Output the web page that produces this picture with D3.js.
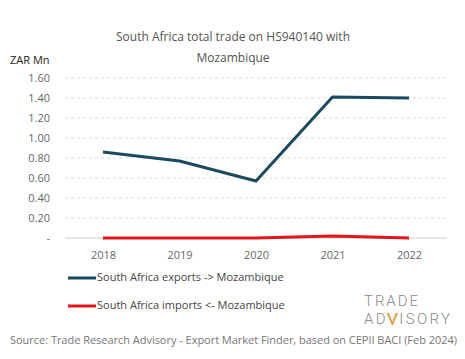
<!DOCTYPE html>
<html><head><meta charset="utf-8">
<script src="https://cdn.jsdelivr.net/npm/d3@7"></script>
<style>body{margin:0;background:#fff}svg{display:block}</style>
</head><body>
<script>
const years = ["2018","2019","2020","2021","2022"];
const exportsVals = [0.86, 0.77, 0.57, 1.41, 1.40];
const importsVals = [0.00, 0.00, 0.00, 0.02, 0.00];
const yTicks = [0, 0.2, 0.4, 0.6, 0.8, 1.0, 1.2, 1.4, 1.6];
const seriesNames = ["South Africa exports -> Mozambique", "South Africa imports <- Mozambique"];
const colors = ["#1b4a5f", "#e3151b"];

const W = 465, H = 359;
const font = "'Open Sans', 'Noto Sans', sans-serif";
const svg = d3.select("body").append("svg").attr("width", W).attr("height", H);

const x = d3.scalePoint().domain(years).range([103, 409]);
const y = d3.scaleLinear().domain([0, 1.6]).range([238, 78]);

// title
svg.append("text").attr("x", 233).attr("y", 41).attr("text-anchor","middle")
  .attr("font-family", font).attr("font-size", 12).attr("fill","#555")
  .text("South Africa total trade on HS940140 with");
svg.append("text").attr("x", 233).attr("y", 62).attr("text-anchor","middle")
  .attr("font-family", font).attr("font-size", 12).attr("fill","#555")
  .text("Mozambique");
svg.append("text").attr("x", 10).attr("y", 64)
  .attr("font-family", font).attr("font-size", 11).attr("fill","#222")
  .text("ZAR Mn");

// grid
const grid = svg.append("g");
yTicks.forEach(t => {
  grid.append("line").attr("x1", 65).attr("x2", 447).attr("y1", y(t)).attr("y2", y(t))
    .attr("stroke", t === 0 ? "#ccc" : "#d9d9d9").attr("stroke-width", 1)
    .attr("stroke-dasharray", t === 0 ? null : "3,3");
});
// y axis labels
const yAxis = d3.axisLeft(y).tickValues(yTicks).tickSize(0).tickPadding(0)
  .tickFormat(d => d === 0 ? "-" : d3.format(".2f")(d));
const ga = svg.append("g").attr("transform","translate(50,0)").call(yAxis);
ga.select(".domain").remove();
ga.selectAll("text").attr("font-family", font).attr("font-size", 11).attr("fill","#666");

// x axis
const xAxis = d3.axisBottom(x).tickSize(0).tickPadding(0);
const gx = svg.append("g").attr("transform","translate(0,251)").call(xAxis);
gx.select(".domain").remove();
gx.selectAll("text").attr("font-family", font).attr("font-size", 11).attr("fill","#666").attr("dy","0.71em");

// lines
const line = d3.line().x((d,i) => x(years[i])).y(d => y(d));
[exportsVals, importsVals].forEach((vals, k) => {
  svg.append("path").datum(vals).attr("d", line).attr("fill","none")
    .attr("stroke", colors[k]).attr("stroke-width", 3).attr("stroke-linejoin","round");
});

// legend
[277, 305].forEach((ly, k) => {
  svg.append("line").attr("x1", 68).attr("x2", 96).attr("y1", ly+1).attr("y2", ly+1)
    .attr("stroke", colors[k]).attr("stroke-width", 3);
  svg.append("text").attr("x", 97).attr("y", ly+4).attr("font-family", font)
    .attr("font-size", 11).attr("fill","#444").text(seriesNames[k]);
});

// logo
const logo = svg.append("g").attr("font-family", "'Roboto', sans-serif").attr("font-weight", 300)
  .attr("fill", "#8a8a8a").attr("font-size", 15);
logo.append("text").attr("x", 364).attr("y", 306).attr("textLength", 54).text("TRADE");
const adv = logo.append("text").attr("x", 364).attr("y", 324).attr("textLength", 86).text("ADVISORY").node();
// orange accent through the V
let vx = 396;
try { const p = adv.getStartPositionOfChar(2), e = adv.getEndPositionOfChar(2); vx = (p.x + e.x) / 2; } catch(err) {}
svg.append("path").attr("d", `M${vx-5},313 L${vx},324 L${vx+5},313`)
  .attr("fill","none").attr("stroke","#f0a030").attr("stroke-width", 1.6);

// source
svg.append("text").attr("x", 10).attr("y", 344).attr("font-family", font)
  .attr("font-size", 11).attr("fill","#777").attr("textLength", 447)
  .text("Source: Trade Research Advisory - Export Market Finder, based on CEPII BACI (Feb 2024)");
</script>
</body></html>
